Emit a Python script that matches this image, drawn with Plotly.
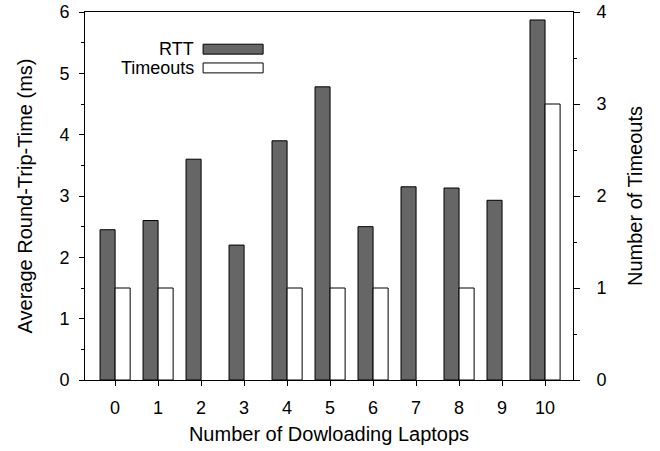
import plotly.graph_objs as go

########### Data ######

laptops = [0, 1, 2, 3, 4, 5, 6, 7, 8, 9, 10]
rtt_ms = [2.45, 2.6, 3.6, 2.2, 3.9, 4.78, 2.5, 3.15, 3.13, 2.93, 5.87]
timeouts = [1, 1, 0, 0, 1, 1, 1, 0, 1, 0, 3]

FONT = 'Liberation Sans, Arial, sans-serif'
DARK = '#666666'

########### Figure ######

# zero-height bars should not leave an outline on the baseline
to_lines = [1 if v > 0 else 0 for v in timeouts]

rtt_bar = go.Bar(x=laptops, y=rtt_ms, name='RTT', width=0.35, offset=-0.35,
                 marker=dict(color=DARK, line=dict(color='black', width=1)),
                 showlegend=False)
to_bar = go.Bar(x=laptops, y=timeouts, name='Timeouts', width=0.35, offset=0,
                yaxis='y2',
                marker=dict(color='white', line=dict(color='black', width=to_lines)),
                showlegend=False)

fig = go.Figure([rtt_bar, to_bar])

axis_common = dict(showline=True, linecolor='black', linewidth=1,
                   ticks='outside', tickcolor='black',
                   showgrid=False, zeroline=False, automargin=False,
                   ticklabeloverflow='allow',
                   tickfont=dict(family=FONT, size=18, color='black'))
minor_ticks = dict(ticks='outside', ticklen=3, dtick=0.5, tickcolor='black')
title_font = dict(family=FONT, size=20, color='black')

fig.update_layout(
    width=660, height=451,
    margin=dict(l=85, r=87, t=12, b=71),
    paper_bgcolor='white', plot_bgcolor='white',
    font=dict(family=FONT, size=18, color='black'),
    barmode='overlay',
    xaxis=dict(range=[-0.7, 10.65], tickmode='array', tickvals=laptops,
               ticktext=[str(v) for v in laptops], mirror=True,
               ticklen=5, ticklabelstandoff=6,
               title=dict(text='Number of Dowloading Laptops', standoff=10,
                          font=title_font),
               **axis_common),
    yaxis=dict(range=[0, 6], dtick=1, minor=minor_ticks,
               ticklen=5, ticklabelstandoff=6,
               title=dict(text='Average Round-Trip-Time (ms)', standoff=21,
                          font=title_font),
               **axis_common),
    yaxis2=dict(range=[0, 4], dtick=1, overlaying='y', side='right',
                minor=minor_ticks, ticklen=6, ticklabelstandoff=13,
                title=dict(text='Number of Timeouts', standoff=22,
                           font=title_font),
                **axis_common),
)

# gnuplot-style key: label on the left, sample box on the right
key = [('RTT', DARK, 0.899), ('Timeouts', 'white', 0.848)]
for label, color, yk in key:
    fig.add_annotation(xref='paper', yref='paper', x=0.217, y=yk,
                       text=label, showarrow=False, xanchor='right',
                       yanchor='middle', xshift=4, borderpad=0,
                       font=dict(family=FONT, size=18))
    fig.add_shape(type='rect', xref='paper', yref='paper',
                  x0=0.242, x1=0.365, y0=yk - 0.0135, y1=yk + 0.0135,
                  fillcolor=color, line=dict(color='black', width=1))

# drop the default 8px page margin so the figure sits at the window corner
fig.write_html('out.html', config={'displayModeBar': False},
               post_script="document.body.style.margin='0';")
